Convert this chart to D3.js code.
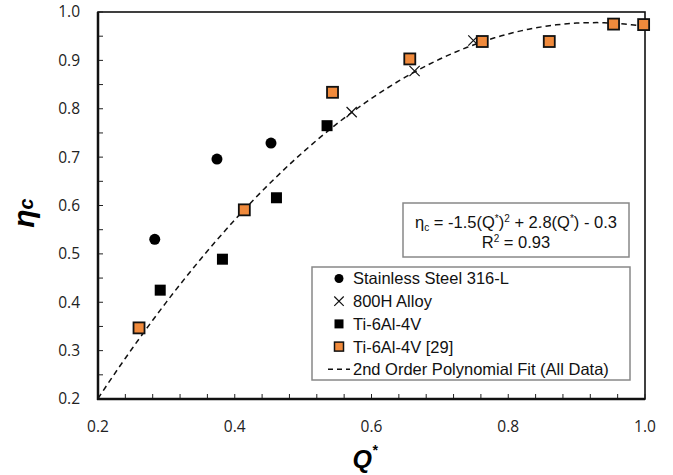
<!DOCTYPE html>
<html>
<head>
<meta charset="utf-8">
<script src="https://cdn.jsdelivr.net/npm/d3@7"></script>
<style>
  body { margin: 0; background: #fff; }
  svg { display: block; }
</style>
</head>
<body>
<svg id="chart" width="673" height="475"></svg>
<script>
// data
const steelQ = [0.283, 0.374, 0.453];
const steelEta = [0.530, 0.696, 0.729];
const alloyQ = [0.571, 0.663, 0.749];
const alloyEta = [0.793, 0.878, 0.941];
const tiQ = [0.291, 0.382, 0.461, 0.535];
const tiEta = [0.425, 0.489, 0.616, 0.765];
const ti29Q = [0.260, 0.414, 0.543, 0.656, 0.762, 0.860, 0.954, 0.998];
const ti29Eta = [0.347, 0.591, 0.834, 0.903, 0.939, 0.939, 0.975, 0.974];
// polynomial fit coefficients as drawn (a, b, c)
const fitCoef = [-1.474, 2.730, -0.286];
const xTickLabels = [0.2, 0.4, 0.6, 0.8, 1.0];
const yTickLabels = [0.2, 0.3, 0.4, 0.5, 0.6, 0.7, 0.8, 0.9, 1.0];
const legendNames = ["Stainless Steel 316-L", "800H Alloy", "Ti-6Al-4V", "Ti-6Al-4V [29]", "2nd Order Polynomial Fit (All Data)"];

const svg = d3.select("#chart")
const pLeft = 98, pRight = 645, pTop = 12, pBottom = 399
const orange = "#f08a3c"
const arial = "'Liberation Sans', Arial, sans-serif"

const x = d3.scaleLinear().domain([0.2, 1.0]).range([pLeft, pRight])
const y = d3.scaleLinear().domain([0.2, 1.0]).range([pBottom, pTop])

// frame (top/right thin)
svg.append("rect")
    .attr("x", pLeft).attr("y", pTop)
    .attr("width", pRight - pLeft).attr("height", pBottom - pTop)
    .attr("fill", "none").attr("stroke", "#111").attr("stroke-width", 1.6)

// minor ticks, inward
const xTicks = d3.range(0, 21).map(i => 0.2 + i * 0.04)
svg.append("g").selectAll("line").data(xTicks).enter().append("line")
    .attr("x1", d => x(d)).attr("x2", d => x(d))
    .attr("y1", pBottom).attr("y2", pBottom - 5)
    .attr("stroke", "#222").attr("stroke-width", 1)
const yTicks = d3.range(0, 17).map(i => 0.2 + i * 0.05)
svg.append("g").selectAll("line").data(yTicks).enter().append("line")
    .attr("x1", pLeft).attr("x2", pLeft + 5)
    .attr("y1", d => y(d)).attr("y2", d => y(d))
    .attr("stroke", "#222").attr("stroke-width", 1)

// thick left / bottom axes
svg.append("line").attr("x1", pLeft).attr("x2", pLeft).attr("y1", pTop).attr("y2", pBottom + 1)
    .attr("stroke", "#111").attr("stroke-width", 2.5)
svg.append("line").attr("x1", pLeft - 1).attr("x2", pRight).attr("y1", pBottom).attr("y2", pBottom)
    .attr("stroke", "#111").attr("stroke-width", 2.5)

// tick labels
svg.append("g").selectAll("text").data(yTickLabels).enter().append("text")
    .attr("x", 80).attr("y", d => y(d))
    .attr("dy", "0.35em")
    .attr("text-anchor", "end")
    .style("font-family", "'Open Sans', sans-serif").style("font-size", "15.5px").style("fill", "#222")
    .text(d => d3.format(".1f")(d))
svg.append("g").selectAll("text").data(xTickLabels).enter().append("text")
    .attr("x", d => x(d)).attr("y", 427)
    .attr("dy", "0.35em")
    .attr("text-anchor", "middle")
    .style("font-family", "'Open Sans', sans-serif").style("font-size", "15.5px").style("fill", "#222")
    .text(d => d3.format(".1f")(d))

// axis titles
const yTitle = svg.append("text")
    .attr("transform", "translate(34,213) rotate(-90)")
    .attr("text-anchor", "middle")
    .style("font-family", arial)
    .style("font-weight", "bold").style("font-style", "italic").style("font-size", "30px")
yTitle.append("tspan").text("η")
yTitle.append("tspan").attr("dy", -1).style("font-size", "20px").text("c")

const xTitle = svg.append("text")
    .attr("x", 365).attr("y", 468)
    .attr("text-anchor", "middle")
    .style("font-family", arial)
    .style("font-weight", "bold").style("font-style", "italic").style("font-size", "25px")
xTitle.append("tspan").text("Q")
xTitle.append("tspan").attr("dy", -13).style("font-size", "14px").text("*")

// fit curve
const fitLine = d3.line()
    .x(d => x(d))
    .y(d => y(fitCoef[0] * d * d + fitCoef[1] * d + fitCoef[2]))
svg.append("path")
    .datum(d3.range(0.2, 1.0001, 0.01))
    .attr("d", fitLine)
    .attr("fill", "none").attr("stroke", "#111")
    .attr("stroke-width", 1.5).attr("stroke-dasharray", "5.5,4")

// markers
const steel = d3.zip(steelQ, steelEta)
const alloy = d3.zip(alloyQ, alloyEta)
const ti = d3.zip(tiQ, tiEta)
const ti29 = d3.zip(ti29Q, ti29Eta)

svg.append("g").selectAll("circle").data(steel).enter().append("circle")
    .attr("cx", d => x(d[0])).attr("cy", d => y(d[1])).attr("r", 5.5).attr("fill", "#000")

const cross = d3.symbol().type(d3.symbolX).size(70)
svg.append("g").selectAll("path").data(alloy).enter().append("path")
    .attr("d", cross).attr("transform", d => `translate(${x(d[0])},${y(d[1])})`)
    .attr("fill", "none").attr("stroke", "#111").attr("stroke-width", 1.2)

svg.append("g").selectAll("rect").data(ti).enter().append("rect")
    .attr("x", d => x(d[0]) - 5.5).attr("y", d => y(d[1]) - 5.5)
    .attr("width", 11).attr("height", 11).attr("fill", "#000")

svg.append("g").selectAll("rect").data(ti29).enter().append("rect")
    .attr("x", d => x(d[0]) - 5.5).attr("y", d => y(d[1]) - 5.5)
    .attr("width", 11).attr("height", 11)
    .attr("fill", orange).attr("stroke", "#111").attr("stroke-width", 1.8)

// equation box
const eq = svg.append("g")
eq.append("rect").attr("x", 403).attr("y", 203).attr("width", 226).attr("height", 54)
    .attr("fill", "#fff").attr("stroke", "#888").attr("stroke-width", 1.5)
const eqText = eq.append("text").attr("x", 516).attr("y", 228).attr("text-anchor", "middle")
    .style("font-family", arial).style("font-size", "16.5px").style("fill", "#111")
eqText.append("tspan").text("η")
eqText.append("tspan").attr("dy", 3).style("font-size", "10px").text("c")
eqText.append("tspan").attr("dy", -3).text(" = -1.5(Q")
eqText.append("tspan").attr("dy", -6).style("font-size", "10px").text("*")
eqText.append("tspan").attr("dy", 6).text(")")
eqText.append("tspan").attr("dy", -6).style("font-size", "10px").text("2")
eqText.append("tspan").attr("dy", 6).text(" + 2.8(Q")
eqText.append("tspan").attr("dy", -6).style("font-size", "10px").text("*")
eqText.append("tspan").attr("dy", 6).text(") - 0.3")
const r2 = eq.append("text").attr("x", 516).attr("y", 248).attr("text-anchor", "middle")
    .style("font-family", arial).style("font-size", "16.5px").style("fill", "#111")
r2.append("tspan").text("R")
r2.append("tspan").attr("dy", -6).style("font-size", "10px").text("2")
r2.append("tspan").attr("dy", 6).text(" = 0.93")

// legend
const lg = svg.append("g")
lg.append("rect").attr("x", 312).attr("y", 267).attr("width", 318).attr("height", 113)
    .attr("fill", "#fff").attr("stroke", "#888").attr("stroke-width", 1.5)
const rowY = i => 278.5 + i * 22.7
const mx = 339
lg.append("circle").attr("cx", mx).attr("cy", rowY(0)).attr("r", 4.5).attr("fill", "#000")
lg.append("path").attr("d", d3.symbol().type(d3.symbolX).size(60)).attr("transform", `translate(${mx},${rowY(1)})`)
    .attr("stroke", "#111").attr("stroke-width", 1.2).attr("fill", "none")
lg.append("rect").attr("x", mx - 4.5).attr("y", rowY(2) - 4.5).attr("width", 9).attr("height", 9).attr("fill", "#000")
lg.append("rect").attr("x", mx - 4.5).attr("y", rowY(3) - 4.5).attr("width", 9).attr("height", 9)
    .attr("fill", orange).attr("stroke", "#111").attr("stroke-width", 1.5)
lg.append("line").attr("x1", 328).attr("x2", 350).attr("y1", rowY(4)).attr("y2", rowY(4))
    .attr("stroke", "#111").attr("stroke-width", 1.5).attr("stroke-dasharray", "5,4")
lg.selectAll("text").data(legendNames).enter().append("text")
    .attr("x", 353).attr("y", (d, i) => rowY(i)).attr("dy", "0.36em")
    .style("font-family", arial).style("font-size", "16.5px").style("fill", "#111")
    .text(d => d)
</script>
</body>
</html>
